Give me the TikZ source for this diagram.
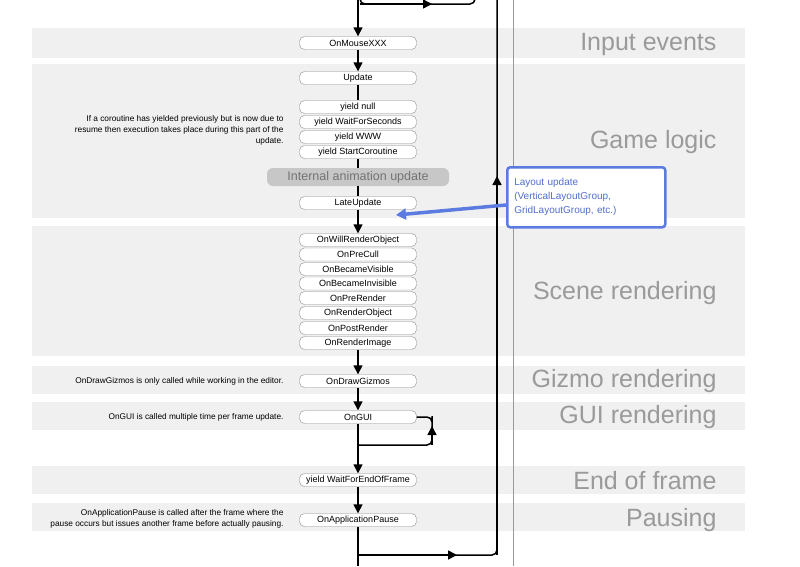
\documentclass[tikz,border=0pt]{standalone}
\usepackage{fontspec}
\setmainfont{Liberation Sans}
\usetikzlibrary{arrows.meta}
\definecolor{band}{HTML}{F0F0F0}
\definecolor{lbl}{HTML}{9A9A9A}
\definecolor{callb}{HTML}{5B7BE0}
\begin{document}
\begin{tikzpicture}[x=1pt,y=-1pt,
  ev/.style={draw=black!45,fill=white,rounded corners=5pt,minimum width=117pt,minimum height=13pt,inner sep=0pt,font=\fontsize{9}{10}\selectfont},
  sec/.style={anchor=east,text=lbl,font=\fontsize{25}{26}\selectfont},
  note/.style={anchor=east,align=right,font=\fontsize{8.3}{11}\selectfont},
  flow/.style={line width=1.5pt},
  arr/.style={flow,-{Triangle[length=9pt,width=9pt]}}]
\useasboundingbox (0,0) rectangle (800,566);
\fill[white] (0,0) rectangle (800,566);
\foreach \a/\b in {28/58,64/218,226/356,366/394,402/430,466/494,503/531}
  \fill[band] (32,\a) rectangle (745,\b);
\draw[black!40] (513,0) -- (513,566);
\node[sec] (s1) at (720,44) {Input events};
\node[sec] (s2) at (720,142) {Game logic};
\node[sec] (s3) at (720,293) {Scene rendering};
\node[sec] (s4) at (720,381) {Gizmo rendering};
\node[sec] (s5) at (720,417) {GUI rendering};
\node[sec] (s6) at (720,481) {End of frame};
\node[sec] (s7) at (720,520) {Pausing};
% nodes
\coordinate (top) at (358,0);
\node[ev] (mouse) at (358,43) {OnMouseXXX};
\node[ev] (upd) at (358,78) {Update};
\node[ev] (y1) at (358,107) {yield null};
\node[ev] (y2) at (358,122) {yield WaitForSeconds};
\node[ev] (y3) at (358,137) {yield WWW};
\node[ev] (y4) at (358,152) {yield StartCoroutine};
\node[fill=black!22,rounded corners=6pt,minimum width=182pt,minimum height=18pt,inner sep=0pt,text=black!55,font=\fontsize{12.5}{13}\selectfont] (anim) at (358,177) {Internal animation update};
\node[ev] (late) at (358,203) {LateUpdate};
\node[ev] (r1) at (358,240) {OnWillRenderObject};
\node[ev] (r2) at (358,254.5) {OnPreCull};
\node[ev] (r3) at (358,269) {OnBecameVisible};
\node[ev] (r4) at (358,283.5) {OnBecameInvisible};
\node[ev] (r5) at (358,298) {OnPreRender};
\node[ev] (r6) at (358,313) {OnRenderObject};
\node[ev] (r7) at (358,328) {OnPostRender};
\node[ev] (r8) at (358,343) {OnRenderImage};
\node[ev] (giz) at (358,381) {OnDrawGizmos};
\node[ev] (gui) at (358,417) {OnGUI};
\node[ev] (eof) at (358,480) {yield WaitForEndOfFrame};
\node[ev] (pause) at (358,520) {OnApplicationPause};
\coordinate (bot) at (358,566);
% connectors
\draw[arr] (top) -- (mouse);
\draw[arr] (mouse) -- (upd);
\draw[flow] (upd) -- (y1);
\draw[flow] (y4) -- (anim);
\draw[flow] (anim) -- (late);
\draw[arr] (late) -- (r1);
\draw[arr] (r8) -- (giz);
\draw[arr] (giz) -- (gui);
\draw[arr] (gui) -- (eof);
\draw[arr] (eof) -- (pause);
\draw[flow] (pause) -- (bot);
% top loop
\draw[flow,rounded corners=5pt] (360,0) |- (475,4) -- (475,0);
\draw[arr] (360,4) -- (432,4);
% main return loop
\draw[flow,rounded corners=5pt] (358,555) -| (497,0);
\draw[arr] (358,555) -- (457,555);
\draw[arr] (497,555) -- (497,176);
% OnGUI loop
\draw[flow,rounded corners=5pt] (358,445) -| (432,421) |- (gui.east);
\draw[arr] (432,445) -- (432,426);
% notes
\node[note] (n1) at (287,130) {If a coroutine has yielded previously but is now due to\\resume then execution takes place during this part of the\\update.};
\node[note] (n2) at (287,381) {OnDrawGizmos is only called while working in the editor.};
\node[note] (n3) at (287,417) {OnGUI is called multiple time per frame update.};
\node[note] (n4) at (287,519) {OnApplicationPause is called after the frame where the\\pause occurs but issues another frame before actually pausing.};
% callout
\node[draw=callb,line width=2.5pt,fill=white,rounded corners=3pt,minimum width=158pt,minimum height=60pt,anchor=north west,align=left,text=callb!90!black,font=\fontsize{10}{14}\selectfont,inner sep=7pt,text width=144pt] (call) at (506,166) {Layout update\\(VerticalLayoutGroup,\\GridLayoutGroup, etc.)};
\coordinate (tip) at (396,215);
\draw[callb,line width=3.5pt,-{Triangle[length=10pt,width=11pt]}] (call.west |- 0,205) -- (tip);
\end{tikzpicture}
\end{document}
